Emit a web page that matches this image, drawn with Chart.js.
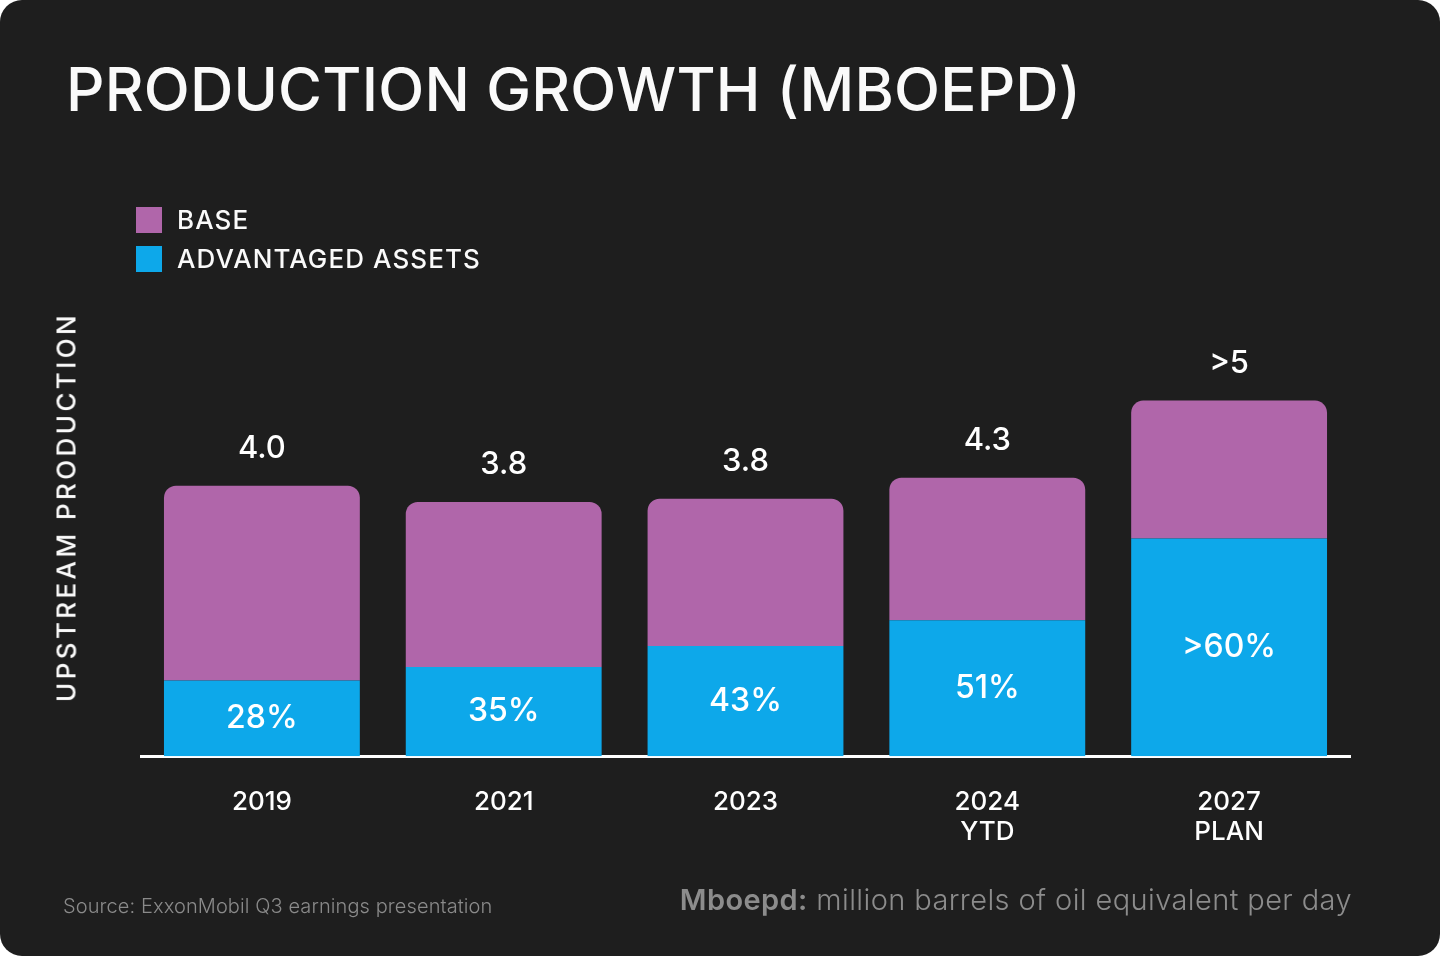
<!DOCTYPE html>
<html>
<head>
<meta charset="utf-8">
<script src="https://cdn.jsdelivr.net/npm/chart.js@4.4.1/dist/chart.umd.min.js"></script>
<style>
  html, body { margin: 0; padding: 0; background: #ffffff; }
  body { width: 1440px; height: 956px; overflow: hidden; font-family: Inter, "Noto Sans", sans-serif; }
  .card { position: absolute; left: 0; top: 0; width: 1440px; height: 956px; background: #1e1e1e; border-radius: 22px; overflow: hidden; }
  #grafico { position: absolute; left: 0; top: 0; }
  .titulo { position: absolute; left: 66px; top: 53px; color: #fafafa; font-size: 60px; font-weight: 500; letter-spacing: 0.2px; white-space: nowrap; }
  .legenda { position: absolute; left: 136px; color: #fafafa; font-size: 26px; font-weight: 500; letter-spacing: 1.1px; white-space: nowrap; }
  .legenda span { display: inline-block; width: 26px; height: 26px; vertical-align: middle; margin-right: 15px; margin-top: -4px; }
  .eixo_y { position: absolute; left: 66px; top: 507px; transform: translate(-50%, -50%) rotate(-90deg); color: #fafafa; font-size: 26px; font-weight: 500; letter-spacing: 3.4px; white-space: nowrap; }
  .fonte { position: absolute; left: 63px; top: 894px; color: #8a8a8a; font-size: 20px; font-weight: 300; letter-spacing: 0.1px; white-space: nowrap; }
  .nota { position: absolute; right: 88px; top: 882px; color: #8c8c8c; font-size: 29px; font-weight: 300; letter-spacing: 0.4px; white-space: nowrap; }
  .nota b { font-weight: 600; }
</style>
</head>
<body>
<div class="card">
  <canvas id="grafico" width="1440" height="956"></canvas>
  <div class="titulo">PRODUCTION GROWTH (MBOEPD)</div>
  <div class="legenda" style="top:204px"><span style="background:#b066aa"></span>BASE</div>
  <div class="legenda" style="top:243px"><span style="background:#0da8ea"></span>ADVANTAGED ASSETS</div>
  <div class="eixo_y">UPSTREAM PRODUCTION</div>
  <div class="fonte">Source: ExxonMobil Q3 earnings presentation</div>
  <div class="nota"><b>Mboepd:</b> million barrels of oil equivalent per day</div>
</div>
<script>
const anos = [['2019'], ['2021'], ['2023'], ['2024', 'YTD'], ['2027', 'PLAN']];
const vantajosos = [1.12, 1.32, 1.63, 2.01, 3.22];
const base = [2.88, 2.44, 2.18, 2.11, 2.04];
const rotulos_total = ['4.0', '3.8', '3.8', '4.3', '>5'];
const rotulos_pct = ['28%', '35%', '43%', '51%', '>60%'];

const ROXO = '#b066aa';
const AZUL = '#0da8ea';

// escreve os totais acima das barras e as porcentagens dentro do azul
const rotulos_plugin = {
  id: 'rotulos',
  afterDatasetsDraw(chart) {
    const ctx = chart.ctx;
    const meta_azul = chart.getDatasetMeta(0);
    const meta_base = chart.getDatasetMeta(1);
    ctx.save();
    ctx.fillStyle = '#ffffff';
    ctx.textAlign = 'center';
    ctx.textBaseline = 'middle';
    meta_azul.data.forEach((bar, i) => {
      ctx.font = '500 32px Inter';
      ctx.fillText(rotulos_pct[i], bar.x, (bar.y + bar.base) / 2);
    });
    meta_base.data.forEach((bar, i) => {
      ctx.font = '500 31px Inter';
      ctx.fillText(rotulos_total[i], bar.x, bar.y - 37);
    });
    ctx.restore();
  }
};

new Chart(document.getElementById('grafico'), {
  type: 'bar',
  data: {
    labels: anos,
    datasets: [{
      label: 'ADVANTAGED ASSETS',
      data: vantajosos,
      backgroundColor: AZUL,
      borderRadius: 0,
      borderSkipped: false
    }, {
      label: 'BASE',
      data: base,
      backgroundColor: ROXO,
      borderRadius: { topLeft: 12, topRight: 12, bottomLeft: 0, bottomRight: 0 },
      borderSkipped: false
    }]
  },
  options: {
    responsive: false,
    animation: false,
    devicePixelRatio: 1,
    barPercentage: 0.81,
    categoryPercentage: 1,
    layout: { padding: { left: 141, right: 90, top: 283, bottom: 78 } },
    plugins: {
      legend: { display: false },
      tooltip: { enabled: false }
    },
    scales: {
      x: {
        stacked: true,
        grid: { display: false, drawTicks: false },
        border: { display: true, color: '#ffffff', width: 3 },
        ticks: {
          color: '#ffffff',
          font: { family: 'Inter', size: 26, weight: '500', lineHeight: 1.15 },
          padding: 31,
          maxRotation: 0
        }
      },
      y: {
        stacked: true,
        display: false,
        min: 0,
        max: 7
      }
    }
  },
  plugins: [rotulos_plugin]
});
</script>
</body>
</html>
